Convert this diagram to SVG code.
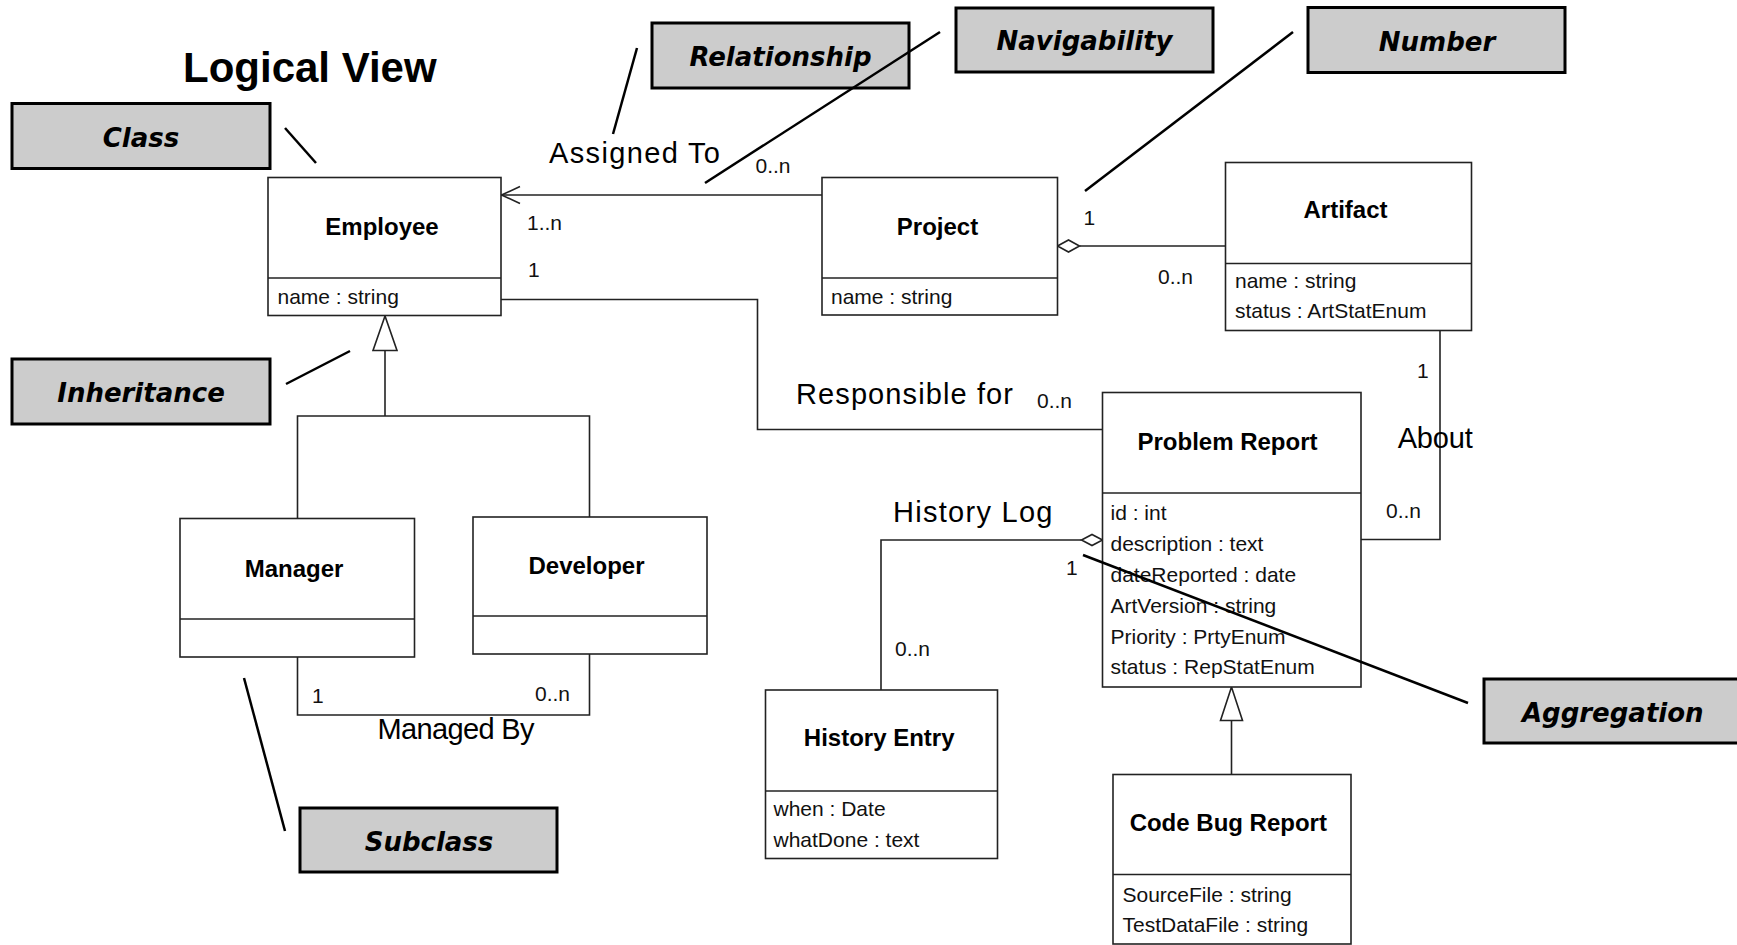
<svg xmlns="http://www.w3.org/2000/svg" width="1737" height="945" viewBox="0 0 1737 945">
<style>
  .bg { fill: #ffffff; }
  .box { fill: #ffffff; stroke: #222222; stroke-width: 1.6; }
  .div { stroke: #222222; stroke-width: 1.6; fill: none; }
  .conn { stroke: #222222; stroke-width: 1.6; fill: none; }
  .head { stroke: #222222; stroke-width: 1.6; fill: #ffffff; }
  .callbox { fill: #cccccc; stroke: #000000; stroke-width: 3; }
  .callline { stroke: #000000; stroke-width: 2.5; fill: none; }
  .callt { font-family: "DejaVu Sans", Verdana, sans-serif; font-weight: bold; font-style: italic; font-size: 26px; fill: #000; text-anchor: middle; }
  .title { font-family: "Liberation Sans", Arial, sans-serif; font-weight: bold; font-size: 42px; fill: #000; }
  .cname { font-family: "Liberation Sans", Arial, sans-serif; font-weight: bold; font-size: 24px; fill: #000; text-anchor: middle; }
  .attr { font-family: "Liberation Sans", Arial, sans-serif; font-size: 21px; fill: #111; }
  .mult { font-family: "Liberation Sans", Arial, sans-serif; font-size: 21px; fill: #111; }
  .lbl { font-family: "Liberation Sans", Arial, sans-serif; font-size: 29px; fill: #000; }
</style>
<rect class="bg" x="0" y="0" width="1737" height="945"/>

<text class="title" x="183" y="82">Logical View</text>

<g id="connectors">
  <!-- Assigned To -->
  <line class="conn" x1="822" y1="195" x2="501" y2="195"/>
  <polyline class="conn" points="520,186.5 501.5,195 520,203.5"/>
  <!-- Responsible for -->
  <polyline class="conn" points="501,299.5 757.5,299.5 757.5,429.5 1102.5,429.5"/>
  <!-- Project - Artifact aggregation -->
  <line class="conn" x1="1079.5" y1="246" x2="1225.5" y2="246"/>
  <polygon class="head" points="1057.5,246 1068.5,240 1079.5,246 1068.5,252"/>
  <!-- About -->
  <polyline class="conn" points="1440,330.5 1440,539.5 1360.5,539.5"/>
  <!-- History Log aggregation -->
  <polyline class="conn" points="1081.5,540 881,540 881,690"/>
  <polygon class="head" points="1102.5,540 1092,534.5 1081.5,540 1092,545.5"/>
  <!-- Inheritance Employee -->
  <line class="conn" x1="385" y1="350.5" x2="385" y2="416"/>
  <polyline class="conn" points="297.5,518.5 297.5,416 589.5,416 589.5,517"/>
  <polygon class="head" points="385,316 373,350.5 397,350.5"/>
  <!-- Managed By -->
  <polyline class="conn" points="297.5,657 297.5,715 589.5,715 589.5,654"/>
  <!-- Inheritance Problem Report -->
  <line class="conn" x1="1231.5" y1="720.5" x2="1231.5" y2="774.5"/>
  <polygon class="head" points="1231.5,687 1220.5,720.5 1242.5,720.5"/>

  <!-- multiplicities -->
  <text class="mult" x="527" y="230">1..n</text>
  <text class="mult" x="528" y="277">1</text>
  <text class="mult" x="755.5" y="173">0..n</text>
  <text class="mult" x="1083.5" y="225">1</text>
  <text class="mult" x="1158" y="283.5">0..n</text>
  <text class="mult" x="1417" y="378">1</text>
  <text class="mult" x="1386" y="518">0..n</text>
  <text class="mult" x="1037" y="408">0..n</text>
  <text class="mult" x="1066" y="574.5">1</text>
  <text class="mult" x="895" y="655.5">0..n</text>
  <text class="mult" x="312" y="702.5">1</text>
  <text class="mult" x="535" y="700.5">0..n</text>

  <!-- association labels -->
  <text class="lbl" x="549" y="163" textLength="171">Assigned To</text>
  <text class="lbl" x="796" y="404" textLength="217">Responsible for</text>
  <text class="lbl" x="893" y="521.5" textLength="159.5">History Log</text>
  <text class="lbl" x="377.5" y="739" textLength="157">Managed By</text>
  <text class="lbl" x="1397.7" y="448.3" textLength="75">About</text>
</g>

<g id="employee">
  <rect class="box" x="268" y="177.5" width="233" height="138"/>
  <line class="div" x1="268" y1="278" x2="501" y2="278"/>
  <text class="cname" x="382" y="235">Employee</text>
  <text class="attr" x="277.5" y="304">name : string</text>
</g>

<g id="project">
  <rect class="box" x="822" y="177.5" width="235.5" height="137.5"/>
  <line class="div" x1="822" y1="278" x2="1057.5" y2="278"/>
  <text class="cname" x="937.5" y="235">Project</text>
  <text class="attr" x="831" y="304">name : string</text>
</g>

<g id="artifact">
  <rect class="box" x="1225.5" y="162.5" width="246" height="168"/>
  <line class="div" x1="1225.5" y1="263.5" x2="1471.5" y2="263.5"/>
  <text class="cname" x="1345.5" y="218">Artifact</text>
  <text class="attr" x="1235" y="287.5">name : string</text>
  <text class="attr" x="1235" y="318">status : ArtStatEnum</text>
</g>

<g id="problem-report">
  <rect class="box" x="1102.5" y="392.5" width="258.5" height="294.5"/>
  <line class="div" x1="1102.5" y1="493" x2="1361" y2="493"/>
  <text class="cname" x="1227.5" y="450">Problem Report</text>
  <text class="attr" x="1110.5" y="520">id : int</text>
  <text class="attr" x="1110.5" y="551">description : text</text>
  <text class="attr" x="1110.5" y="582">dateReported : date</text>
  <text class="attr" x="1110.5" y="613">ArtVersion : string</text>
  <text class="attr" x="1110.5" y="643.5">Priority : PrtyEnum</text>
  <text class="attr" x="1110.5" y="674">status : RepStatEnum</text>
</g>

<g id="manager">
  <rect class="box" x="180" y="518.5" width="234.5" height="138.5"/>
  <line class="div" x1="180" y1="619" x2="414.5" y2="619"/>
  <text class="cname" x="294" y="577">Manager</text>
</g>

<g id="developer">
  <rect class="box" x="473" y="517" width="234" height="137"/>
  <line class="div" x1="473" y1="616" x2="707" y2="616"/>
  <text class="cname" x="586.5" y="574">Developer</text>
</g>

<g id="history-entry">
  <rect class="box" x="765.5" y="690" width="232" height="168.5"/>
  <line class="div" x1="765.5" y1="791" x2="997.5" y2="791"/>
  <text class="cname" x="879.2" y="746">History Entry</text>
  <text class="attr" x="773.5" y="816">when : Date</text>
  <text class="attr" x="773.5" y="847">whatDone : text</text>
</g>

<g id="code-bug-report">
  <rect class="box" x="1113" y="774.5" width="238" height="169.5"/>
  <line class="div" x1="1113" y1="874.5" x2="1351" y2="874.5"/>
  <text class="cname" x="1228.3" y="830.5">Code Bug Report</text>
  <text class="attr" x="1122.5" y="901.5">SourceFile : string</text>
  <text class="attr" x="1122.5" y="931.5">TestDataFile : string</text>
</g>

<g id="callout-class">
  <rect class="callbox" x="12" y="103.5" width="258" height="65"/>
  <text class="callt" x="141" y="146.5">Class</text>
  <line class="callline" x1="285" y1="128" x2="316" y2="163"/>
</g>
<g id="callout-relationship">
  <rect class="callbox" x="652" y="23" width="257" height="65"/>
  <text class="callt" x="780.5" y="66">Relationship</text>
  <line class="callline" x1="637" y1="48" x2="613" y2="134"/>
</g>
<g id="callout-navigability">
  <rect class="callbox" x="956" y="8" width="257" height="64"/>
  <text class="callt" x="1084.5" y="50">Navigability</text>
  <line class="callline" x1="940" y1="32" x2="705" y2="183"/>
</g>
<g id="callout-number">
  <rect class="callbox" x="1308" y="7.5" width="257" height="65"/>
  <text class="callt" x="1437" y="50.5">Number</text>
  <line class="callline" x1="1293" y1="32" x2="1085" y2="191"/>
</g>
<g id="callout-inheritance">
  <rect class="callbox" x="12" y="359" width="258" height="65"/>
  <text class="callt" x="141" y="402">Inheritance</text>
  <line class="callline" x1="286" y1="384" x2="350" y2="351"/>
</g>
<g id="callout-subclass">
  <rect class="callbox" x="300" y="808" width="257" height="64"/>
  <text class="callt" x="429" y="850.5">Subclass</text>
  <line class="callline" x1="244" y1="678" x2="285" y2="831"/>
</g>
<g id="callout-aggregation">
  <rect class="callbox" x="1484" y="679" width="257" height="64"/>
  <text class="callt" x="1612.8" y="722">Aggregation</text>
  <line class="callline" x1="1083" y1="555" x2="1468" y2="703"/>
</g>
</svg>
